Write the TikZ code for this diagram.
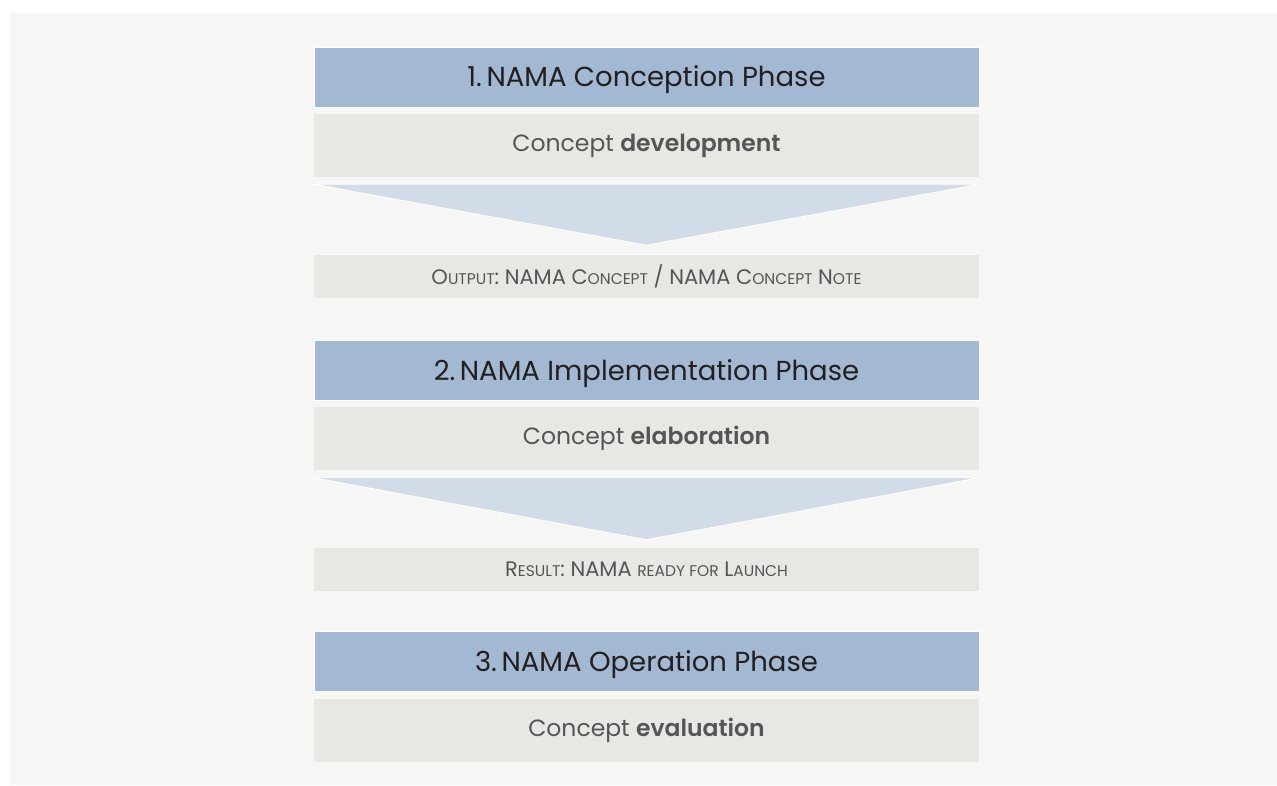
\documentclass[tikz,border=0pt]{standalone}
\usepackage{fontspec}
\setmainfont{Poppins}[BoldFont={Poppins SemiBold}]
\definecolor{pagebg}{HTML}{F6F6F4}
\definecolor{headblue}{HTML}{A3B8D2}
\definecolor{boxgray}{HTML}{E7E7E3}
\definecolor{arrowblue}{HTML}{D2DCE8}
\definecolor{headtext}{HTML}{231F20}
\definecolor{bodytext}{HTML}{555555}
% fake small capitals: lower-case part set in smaller upper case
\newcommand{\fakesc}[1]{{\fontsize{15.5}{16}\selectfont #1}}
\tikzset{
  phasehead/.style={fill=headblue, draw=white, line width=0.8pt, inner sep=0pt,
    minimum width=665pt, minimum height=60pt, text=headtext,
    text height=19.5pt, text depth=0pt,
    font=\fontsize{27.5}{30}\selectfont},
  phasebody/.style={fill=boxgray, inner sep=0pt,
    minimum width=665pt, minimum height=63pt, text=bodytext,
    font=\fontsize{23.5}{26}\selectfont},
  phaseout/.style={fill=boxgray, inner sep=0pt,
    minimum width=665pt, minimum height=43pt, text=bodytext,
    font=\fontsize{21}{22}\selectfont},
  funnel/.style={fill=arrowblue, draw=white, line width=0.8pt, line join=miter}
}
\begin{document}
\begin{tikzpicture}[x=1pt,y=-1pt]
  \useasboundingbox (0,0) rectangle (1277,785);
  \fill[pagebg] (10,13) rectangle (1277,785);

  % phase 1
  \node[phasehead] (h1) at (646.5,77) {1.\,NAMA Conception Phase};
  \node[phasebody] (g1) at (646.5,145.5) {Concept \textbf{development}};
  \fill[funnel] ([yshift=-7pt]g1.south west) -- ([yshift=-7pt]g1.south east)
    -- ([yshift=-68pt]g1.south) -- cycle;
  \node[phaseout] (o1) at (646.5,276.5)
    {O\fakesc{UTPUT}: NAMA C\fakesc{ONCEPT} / NAMA C\fakesc{ONCEPT} N\fakesc{OTE}};

  % phase 2
  \node[phasehead] (h2) at (646.5,370.5) {2.\,NAMA Implementation Phase};
  \node[phasebody] (g2) at (646.5,438) {Concept \textbf{elaboration}};
  \fill[funnel] ([yshift=-8pt]g2.south west) -- ([yshift=-8pt]g2.south east)
    -- ([yshift=-70pt]g2.south) -- cycle;
  \node[phaseout] (r2) at (646.5,569.5)
    {R\fakesc{ESULT}: NAMA \fakesc{READY FOR} L\fakesc{AUNCH}};

  % phase 3
  \node[phasehead] (h3) at (646.5,661.5) {3.\,NAMA Operation Phase};
  \node[phasebody] (g3) at (646.5,730.5) {Concept \textbf{evaluation}};
\end{tikzpicture}
\end{document}
